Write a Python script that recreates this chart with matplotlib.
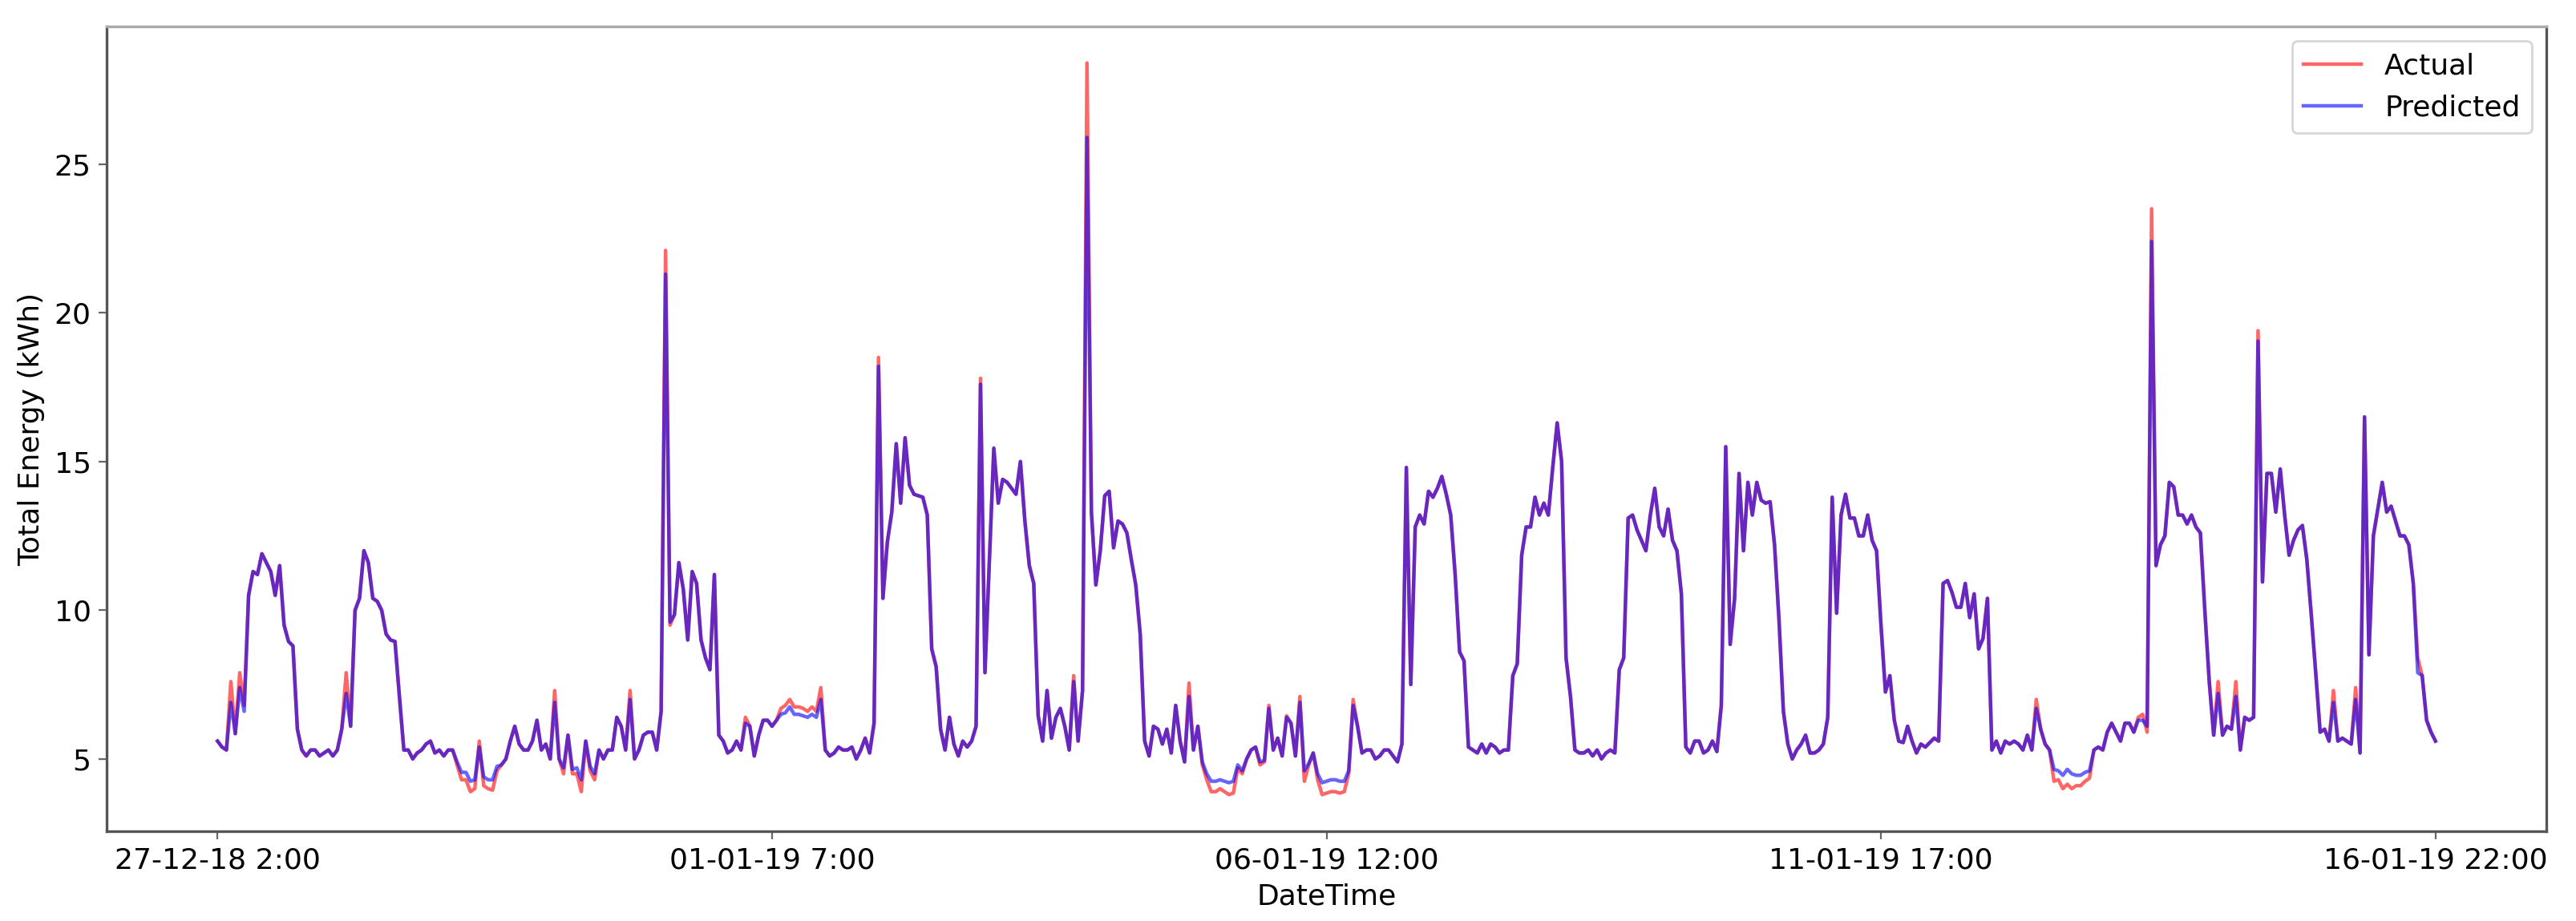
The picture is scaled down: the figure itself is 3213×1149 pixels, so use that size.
import matplotlib
matplotlib.use("Agg")
import matplotlib.pyplot as plt

actual = [
    5.6, 5.4, 5.3, 7.6, 5.85, 7.9, 6.8, 10.5, 11.3, 11.2,
    11.9, 11.6, 11.3, 10.5, 11.5, 9.5, 8.95, 8.8, 6.0, 5.3,
    5.1, 5.3, 5.3, 5.1, 5.2, 5.3, 5.1, 5.3, 6.0, 7.9,
    6.1, 10.0, 10.4, 12.0, 11.6, 10.4, 10.3, 10.0, 9.2, 9.0,
    8.95, 7.1, 5.3, 5.3, 5.0, 5.2, 5.3, 5.5, 5.6, 5.2,
    5.3, 5.1, 5.3, 5.3, 4.8, 4.3, 4.3, 3.9, 4.0, 5.6,
    4.1, 4.0, 3.95, 4.6, 4.8, 5.0, 5.6, 6.1, 5.5, 5.3,
    5.3, 5.6, 6.3, 5.3, 5.5, 5.0, 7.3, 5.0, 4.5, 5.8,
    4.5, 4.5, 3.9, 5.6, 4.6, 4.3, 5.3, 5.0, 5.3, 5.3,
    6.4, 6.1, 5.3, 7.3, 5.0, 5.3, 5.8, 5.9, 5.9, 5.3,
    6.6, 22.1, 9.5, 9.85, 11.6, 10.7, 9.0, 11.3, 10.9, 9.0,
    8.4, 8.0, 11.2, 5.8, 5.6, 5.2, 5.3, 5.6, 5.3, 6.4,
    6.1, 5.1, 5.8, 6.3, 6.3, 6.1, 6.3, 6.7, 6.8, 7.0,
    6.75, 6.75, 6.7, 6.6, 6.75, 6.6, 7.4, 5.3, 5.1, 5.2,
    5.4, 5.3, 5.3, 5.4, 5.0, 5.3, 5.7, 5.2, 6.2, 18.5,
    10.4, 12.3, 13.3, 15.6, 13.6, 15.8, 14.2, 13.9, 13.85, 13.8,
    13.2, 8.7, 8.1, 6.0, 5.3, 6.4, 5.5, 5.1, 5.6, 5.4,
    5.6, 6.1, 17.8, 7.9, 11.7, 15.45, 13.6, 14.4, 14.3, 14.1,
    13.9, 15.0, 13.0, 11.5, 10.9, 6.45, 5.6, 7.3, 5.7, 6.4,
    6.7, 6.1, 5.3, 7.8, 5.6, 7.3, 28.4, 13.3, 10.85, 12.0,
    13.85, 14.0, 12.1, 13.0, 12.9, 12.6, 11.7, 10.85, 9.2, 5.6,
    5.1, 6.1, 6.0, 5.5, 6.0, 5.2, 6.8, 5.6, 4.9, 7.55,
    5.3, 6.1, 4.8, 4.3, 3.9, 3.9, 4.0, 3.9, 3.8, 3.85,
    4.7, 4.5, 5.0, 5.3, 5.4, 4.8, 4.9, 6.8, 5.3, 5.7,
    5.1, 6.45, 6.2, 5.1, 7.1, 4.25, 4.8, 5.2, 4.3, 3.8,
    3.85, 3.9, 3.9, 3.85, 3.9, 4.5, 7.0, 6.1, 5.2, 5.3,
    5.3, 5.0, 5.1, 5.3, 5.3, 5.1, 4.9, 5.5, 14.8, 7.5,
    12.8, 13.2, 12.9, 14.0, 13.8, 14.1, 14.5, 13.9, 13.2, 11.2,
    8.6, 8.3, 5.4, 5.3, 5.2, 5.5, 5.2, 5.5, 5.4, 5.2,
    5.3, 5.3, 7.8, 8.2, 11.85, 12.8, 12.8, 13.8, 13.2, 13.6,
    13.2, 14.8, 16.3, 15.0, 8.4, 7.1, 5.3, 5.2, 5.2, 5.3,
    5.1, 5.3, 5.0, 5.2, 5.3, 5.2, 8.0, 8.4, 13.1, 13.2,
    12.7, 12.35, 12.0, 13.2, 14.1, 12.8, 12.5, 13.4, 12.35, 12.0,
    10.55, 5.4, 5.2, 5.6, 5.6, 5.2, 5.3, 5.6, 5.25, 6.8,
    15.5, 8.85, 10.4, 14.6, 12.0, 14.3, 13.2, 14.3, 13.7, 13.6,
    13.65, 12.2, 9.7, 6.6, 5.5, 5.0, 5.3, 5.5, 5.8, 5.2,
    5.2, 5.3, 5.5, 6.4, 13.8, 9.9, 13.2, 13.9, 13.1, 13.1,
    12.5, 12.5, 13.2, 12.35, 12.0, 9.5, 7.25, 7.8, 6.3, 5.6,
    5.55, 6.1, 5.6, 5.2, 5.5, 5.4, 5.55, 5.7, 5.6, 10.9,
    11.0, 10.6, 10.1, 10.1, 10.9, 9.75, 10.55, 8.7, 9.05, 10.4,
    5.3, 5.6, 5.2, 5.6, 5.5, 5.6, 5.5, 5.3, 5.8, 5.3,
    7.0, 6.0, 5.5, 5.3, 4.25, 4.3, 4.0, 4.15, 4.0, 4.1,
    4.1, 4.25, 4.35, 5.3, 5.4, 5.3, 5.9, 6.2, 5.9, 5.6,
    6.2, 6.2, 5.9, 6.4, 6.5, 5.9, 23.5, 11.5, 12.2, 12.5,
    14.3, 14.15, 13.2, 13.2, 12.9, 13.2, 12.8, 12.6, 10.0, 7.6,
    5.8, 7.6, 5.8, 6.1, 6.0, 7.6, 5.3, 6.4, 6.3, 6.4,
    19.4, 10.95, 14.6, 14.6, 13.3, 14.75, 13.2, 11.85, 12.35, 12.7,
    12.85, 11.7, 9.85, 7.9, 5.9, 6.0, 5.6, 7.3, 5.6, 5.7,
    5.6, 5.5, 7.4, 5.2, 16.5, 8.5, 12.5, 13.4, 14.3, 13.3,
    13.5, 13.0, 12.5, 12.5, 12.2, 10.9, 8.4, 7.8, 6.3, 5.9, 5.6,
]

predicted = [
    5.6, 5.4, 5.3, 6.9, 5.85, 7.4, 6.6, 10.5, 11.3, 11.2,
    11.9, 11.6, 11.3, 10.5, 11.5, 9.5, 8.95, 8.8, 6.0, 5.3,
    5.1, 5.3, 5.3, 5.1, 5.2, 5.3, 5.1, 5.3, 6.0, 7.2,
    6.1, 10.0, 10.4, 12.0, 11.6, 10.4, 10.3, 10.0, 9.2, 9.0,
    8.95, 7.1, 5.3, 5.3, 5.0, 5.2, 5.3, 5.5, 5.6, 5.2,
    5.3, 5.1, 5.3, 5.3, 4.9, 4.55, 4.55, 4.25, 4.3, 5.4,
    4.4, 4.3, 4.3, 4.75, 4.8, 5.0, 5.6, 6.1, 5.5, 5.3,
    5.3, 5.6, 6.3, 5.3, 5.5, 5.0, 6.9, 5.0, 4.7, 5.8,
    4.65, 4.7, 4.3, 5.6, 4.75, 4.5, 5.3, 5.0, 5.3, 5.3,
    6.4, 6.1, 5.3, 7.0, 5.0, 5.3, 5.8, 5.9, 5.9, 5.3,
    6.6, 21.3, 9.6, 9.85, 11.6, 10.7, 9.0, 11.3, 10.9, 9.0,
    8.4, 8.0, 11.2, 5.8, 5.6, 5.2, 5.3, 5.6, 5.3, 6.2,
    6.1, 5.1, 5.8, 6.3, 6.3, 6.1, 6.3, 6.5, 6.55, 6.75,
    6.5, 6.5, 6.45, 6.4, 6.5, 6.4, 7.0, 5.3, 5.1, 5.2,
    5.4, 5.3, 5.3, 5.4, 5.0, 5.3, 5.7, 5.2, 6.2, 18.2,
    10.4, 12.3, 13.3, 15.6, 13.6, 15.8, 14.2, 13.9, 13.85, 13.8,
    13.2, 8.7, 8.1, 6.0, 5.3, 6.4, 5.5, 5.1, 5.6, 5.4,
    5.6, 6.1, 17.6, 7.9, 11.7, 15.45, 13.6, 14.4, 14.3, 14.1,
    13.9, 15.0, 13.0, 11.5, 10.9, 6.45, 5.6, 7.3, 5.7, 6.4,
    6.7, 6.1, 5.3, 7.6, 5.6, 7.3, 25.9, 13.3, 10.85, 12.0,
    13.85, 14.0, 12.1, 13.0, 12.9, 12.6, 11.7, 10.85, 9.2, 5.6,
    5.1, 6.1, 6.0, 5.5, 6.0, 5.2, 6.8, 5.6, 4.9, 7.1,
    5.3, 6.1, 4.9, 4.5, 4.25, 4.25, 4.3, 4.25, 4.2, 4.25,
    4.8, 4.6, 5.0, 5.3, 5.4, 4.9, 4.95, 6.7, 5.3, 5.7,
    5.1, 6.4, 6.2, 5.1, 6.9, 4.6, 4.85, 5.2, 4.5, 4.2,
    4.25, 4.3, 4.3, 4.25, 4.25, 4.6, 6.8, 6.1, 5.2, 5.3,
    5.3, 5.0, 5.1, 5.3, 5.3, 5.1, 4.9, 5.5, 14.8, 7.5,
    12.8, 13.2, 12.9, 14.0, 13.8, 14.1, 14.5, 13.9, 13.2, 11.2,
    8.6, 8.3, 5.4, 5.3, 5.2, 5.5, 5.2, 5.5, 5.4, 5.2,
    5.3, 5.3, 7.8, 8.2, 11.85, 12.8, 12.8, 13.8, 13.2, 13.6,
    13.2, 14.8, 16.3, 15.0, 8.4, 7.1, 5.3, 5.2, 5.2, 5.3,
    5.1, 5.3, 5.0, 5.2, 5.3, 5.2, 8.0, 8.4, 13.1, 13.2,
    12.7, 12.35, 12.0, 13.2, 14.1, 12.8, 12.5, 13.4, 12.35, 12.0,
    10.55, 5.4, 5.2, 5.6, 5.6, 5.2, 5.3, 5.6, 5.25, 6.8,
    15.5, 8.85, 10.4, 14.6, 12.0, 14.3, 13.2, 14.3, 13.7, 13.6,
    13.65, 12.2, 9.7, 6.6, 5.5, 5.0, 5.3, 5.5, 5.8, 5.2,
    5.2, 5.3, 5.5, 6.4, 13.8, 9.9, 13.2, 13.9, 13.1, 13.1,
    12.5, 12.5, 13.2, 12.35, 12.0, 9.5, 7.25, 7.8, 6.3, 5.6,
    5.55, 6.1, 5.6, 5.2, 5.5, 5.4, 5.55, 5.7, 5.6, 10.9,
    11.0, 10.6, 10.1, 10.1, 10.9, 9.75, 10.55, 8.7, 9.05, 10.4,
    5.3, 5.6, 5.2, 5.6, 5.5, 5.6, 5.5, 5.3, 5.8, 5.3,
    6.7, 6.0, 5.5, 5.3, 4.65, 4.6, 4.45, 4.65, 4.5, 4.45,
    4.45, 4.55, 4.6, 5.3, 5.4, 5.3, 5.9, 6.2, 5.9, 5.6,
    6.2, 6.2, 5.9, 6.3, 6.3, 6.1, 22.4, 11.5, 12.2, 12.5,
    14.3, 14.15, 13.2, 13.2, 12.9, 13.2, 12.8, 12.6, 10.0, 7.6,
    5.8, 7.2, 5.8, 6.1, 6.0, 7.1, 5.3, 6.4, 6.3, 6.4,
    19.05, 10.95, 14.6, 14.6, 13.3, 14.75, 13.2, 11.85, 12.35, 12.7,
    12.85, 11.7, 9.85, 7.9, 5.9, 6.0, 5.6, 6.9, 5.6, 5.7,
    5.6, 5.5, 7.0, 5.2, 16.5, 8.5, 12.5, 13.4, 14.3, 13.3,
    13.5, 13.0, 12.5, 12.5, 12.2, 10.9, 7.9, 7.8, 6.3, 5.9, 5.6,
]

tick_positions = [0, 125, 250, 375, 500]
tick_labels = ["27-12-18 2:00", "01-01-19 7:00", "06-01-19 12:00",
               "11-01-19 17:00", "16-01-19 22:00"]

fig = plt.figure(figsize=(16.065, 5.745), dpi=200)
ax = fig.add_axes([0.0414, 0.0975, 0.9471, 0.8738])

x = list(range(len(actual)))
ax.plot(x, actual, color="red", alpha=0.6, linewidth=1.6, label="Actual")
ax.plot(x, predicted, color="blue", alpha=0.6, linewidth=1.6, label="Predicted")

ax.set_xticks(tick_positions)
ax.set_xticklabels(tick_labels)
ax.set_yticks([5, 10, 15, 20, 25])
ax.tick_params(axis="both", labelsize=13, color="#666666")
for side in ["left", "bottom", "right"]:
    ax.spines[side].set_color("#555555")
    ax.spines[side].set_linewidth(1.2)
ax.spines["top"].set_color("#aaaaaa")
ax.spines["top"].set_linewidth(1.2)
ax.set_xlabel("DateTime", fontsize=13)
ax.set_ylabel("Total Energy (kWh)", fontsize=13)
ax.legend(loc="upper right", fontsize=13)

fig.savefig("out.png", dpi=200)
